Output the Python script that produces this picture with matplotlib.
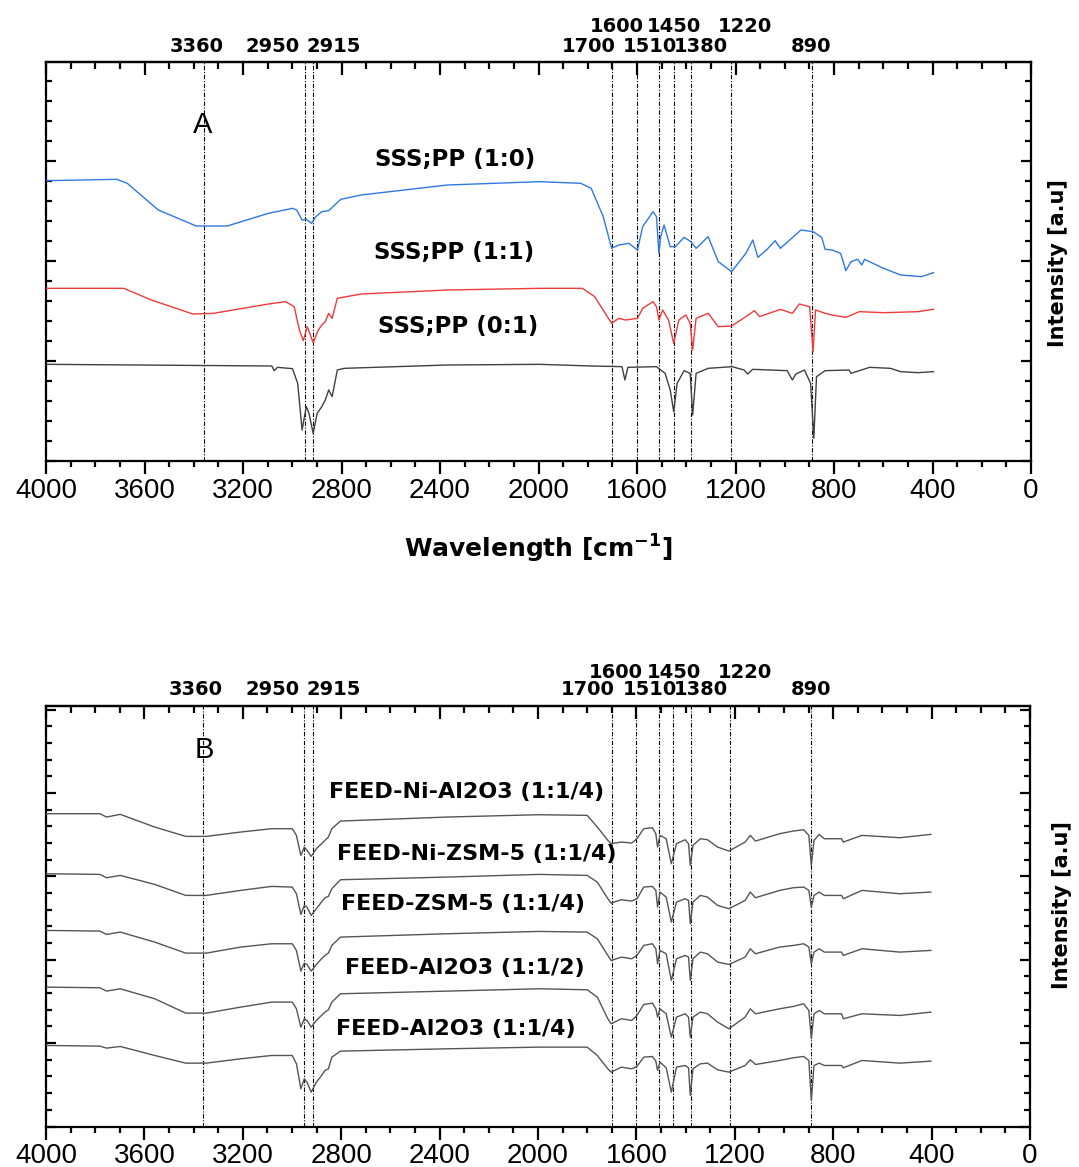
import matplotlib
matplotlib.use('Agg')
import matplotlib.pyplot as plt
from matplotlib.ticker import MultipleLocator, NullFormatter
from matplotlib.transforms import blended_transform_factory

# ---- panel A: SSS;PP blends (wavenumber in cm-1, intensity in a.u.) ----
wn_a_10 = [3998, 3712, 3670, 3544, 3390, 3264, 3097, 2999, 2982, 2960, 2943, 2922, 2904, 2880, 2852,
           2803, 2720, 2370, 1996, 1828, 1786, 1737, 1703, 1674, 1633, 1598, 1577, 1535, 1521, 1511,
           1504, 1490, 1465, 1444, 1409, 1381, 1360, 1311, 1270, 1216, 1158, 1130, 1109, 1074, 1039,
           1018, 934, 885, 850, 836, 808, 773, 752, 731, 704, 687, 676, 599, 529, 445, 396]
int_a_10 = [841, 845, 833, 753, 705, 705, 743, 758, 753, 723, 725, 713, 733, 748, 751,
            785, 798, 828, 838, 833, 818, 733, 638, 648, 653, 633, 703, 748, 733, 623,
            673, 708, 643, 643, 671, 658, 638, 673, 598, 568, 623, 663, 611, 633, 661,
            638, 693, 688, 671, 635, 633, 623, 571, 598, 605, 588, 605, 578, 558, 553, 565]

wn_a_11 = [3998, 3684, 3572, 3404, 3320, 3097, 3027, 2992, 2971, 2955, 2939, 2915, 2894, 2880, 2866,
           2852, 2838, 2817, 2720, 2370, 1996, 1822, 1772, 1703, 1674, 1646, 1598, 1577, 1535, 1521,
           1511, 1496, 1472, 1451, 1430, 1402, 1384, 1374, 1360, 1311, 1270, 1216, 1158, 1123, 1102,
           1018, 969, 941, 899, 885, 875, 836, 808, 752, 697, 599, 459, 396]
int_a_11 = [518, 518, 483, 441, 443, 471, 478, 463, 393, 361, 403, 355, 393, 408, 418,
            443, 428, 488, 501, 513, 518, 518, 493, 413, 428, 423, 428, 458, 478, 463,
            423, 453, 423, 353, 423, 438, 413, 333, 428, 443, 403, 405, 433, 451, 433,
            455, 443, 471, 463, 328, 453, 443, 438, 431, 448, 445, 448, 455]

wn_a_01 = [3998, 3083, 3073, 3060, 2999, 2978, 2960, 2943, 2932, 2915, 2899, 2880, 2866, 2852, 2838,
           2817, 2789, 2370, 1996, 1786, 1661, 1649, 1637, 1521, 1486, 1465, 1451, 1437, 1409, 1384,
           1374, 1360, 1311, 1214, 1165, 1151, 1130, 990, 969, 955, 920, 895, 882, 871, 836,
           739, 731, 655, 571, 529, 459, 396]
int_a_01 = [290, 285, 271, 281, 277, 233, 93, 163, 143, 83, 143, 163, 183, 213, 193,
            273, 278, 288, 290, 285, 283, 243, 281, 283, 263, 213, 148, 233, 271, 263,
            138, 263, 278, 283, 273, 261, 275, 271, 243, 261, 273, 233, 68, 253, 271,
            273, 263, 281, 278, 268, 265, 268]

labels_a = ['SSS;PP (1:0)', 'SSS;PP (1:1)', 'SSS;PP (0:1)']

# ---- panel B: feed + catalysts ----
wn_b = [3998, 3781, 3754, 3698, 3558, 3432, 3348, 3209, 3083, 2999, 2982, 2964, 2950, 2939, 2922,
        2901, 2880, 2866, 2852, 2838, 2803, 2370, 1996, 1800, 1759, 1716, 1703, 1661, 1619, 1598,
        1570, 1535, 1521, 1514, 1504, 1479, 1458, 1437, 1402, 1388, 1381, 1370, 1340, 1311, 1270,
        1224, 1158, 1137, 1116, 1018, 962, 920, 899, 889, 878, 857, 836, 766, 759, 683, 529, 403]
int_b_ni_al2o3 = [938, 938, 928, 936, 898, 870, 870, 883, 893, 893, 873, 813, 838, 828, 810,
                  833, 848, 858, 868, 893, 916, 928, 935, 933, 898, 858, 848, 853, 850, 863,
                  893, 896, 878, 838, 873, 863, 788, 848, 860, 848, 783, 843, 863, 860, 838,
                  826, 853, 873, 856, 878, 886, 890, 873, 783, 858, 876, 863, 863, 853, 873, 866, 876]
int_b_ni_zsm5 = [758, 756, 746, 753, 726, 693, 693, 708, 720, 718, 698, 636, 663, 658, 633,
                 653, 673, 686, 690, 713, 740, 748, 756, 753, 733, 683, 670, 680, 676, 683,
                 718, 720, 708, 658, 703, 688, 613, 673, 683, 678, 608, 673, 693, 688, 663,
                 653, 678, 703, 686, 708, 716, 718, 708, 658, 693, 703, 693, 693, 683, 708, 698, 703]
int_b_zsm5 = [588, 586, 576, 583, 553, 520, 520, 538, 548, 548, 528, 466, 490, 486, 466,
              486, 503, 513, 520, 543, 568, 578, 585, 583, 563, 513, 498, 508, 503, 513,
              543, 548, 533, 488, 528, 518, 438, 503, 513, 508, 438, 503, 523, 518, 493,
              486, 508, 533, 518, 538, 543, 548, 538, 488, 523, 533, 523, 523, 513, 533, 523, 528]
int_b_al2o3_12 = [418, 416, 406, 413, 383, 340, 340, 358, 373, 373, 353, 298, 323, 318, 298,
                  318, 333, 343, 350, 373, 398, 406, 413, 410, 388, 323, 308, 323, 318, 333,
                  366, 370, 353, 328, 353, 338, 268, 328, 338, 328, 268, 328, 343, 338, 313,
                  293, 328, 353, 338, 353, 360, 368, 348, 263, 338, 348, 338, 338, 323, 338, 333, 343]
int_b_al2o3_14 = [243, 241, 235, 240, 213, 190, 190, 203, 213, 213, 188, 113, 143, 133, 103,
                  133, 153, 168, 173, 208, 226, 233, 238, 238, 213, 173, 163, 178, 173, 180,
                  208, 210, 196, 168, 193, 176, 103, 178, 183, 176, 93, 173, 188, 190, 170,
                  163, 183, 200, 186, 198, 206, 210, 198, 78, 183, 190, 183, 183, 176, 198, 190, 196]

labels_b = ['FEED-Ni-Al2O3 (1:1/4)', 'FEED-Ni-ZSM-5 (1:1/4)', 'FEED-ZSM-5 (1:1/4)',
            'FEED-Al2O3 (1:1/2)', 'FEED-Al2O3 (1:1/4)']

# marked bands: position of dash-dot line, label text x, label row (0 lower, 1 upper)
peak_lines = [3360, 2950, 2915, 1700, 1600, 1510, 1450, 1380, 1220, 890]
peak_text_x = [3390, 3079, 2832, 1797, 1683, 1546, 1448, 1339, 1160, 892]
peak_rows = [0, 0, 0, 0, 1, 0, 1, 0, 1, 0]

W, H = 1079, 1167
fig = plt.figure(figsize=(W / 100, H / 100), dpi=100)

tick_font = {'family': 'Liberation Sans', 'size': 20}
bold = {'family': 'DejaVu Sans', 'weight': 'bold'}


def setup_axes(ax, ymax, ymajor, yminor, row_off):
    ax.set_xlim(4000, 0)
    ax.set_ylim(0, ymax)
    for s in ax.spines.values():
        s.set_linewidth(1.6)
    ax.xaxis.set_major_locator(MultipleLocator(400))
    ax.xaxis.set_minor_locator(MultipleLocator(100))
    ax.yaxis.set_major_locator(MultipleLocator(ymajor))
    ax.yaxis.set_minor_locator(MultipleLocator(yminor))
    ax.tick_params(axis='x', which='both', direction='out', top=False, width=1.6)
    ax.tick_params(axis='x', which='major', length=9, pad=3)
    ax.tick_params(axis='x', which='minor', length=4)
    ax.tick_params(axis='y', which='both', direction='in', left=True, right=True,
                   labelleft=False, width=1.6)
    ax.tick_params(axis='y', which='major', length=7)
    ax.tick_params(axis='y', which='minor', length=4)
    for lab in ax.get_xticklabels():
        lab.set_fontproperties(tick_font)
        lab.set_fontsize(tick_font['size'])

    top = ax.secondary_xaxis('top')
    top.xaxis.set_major_locator(MultipleLocator(400))
    top.xaxis.set_minor_locator(MultipleLocator(100))
    top.xaxis.set_major_formatter(NullFormatter())
    top.tick_params(which='both', direction='in', width=1.6)
    top.tick_params(which='major', length=9)
    top.tick_params(which='minor', length=5)
    top.spines['top'].set_linewidth(1.6)

    for p in peak_lines:
        ax.axvline(p, color='black', lw=0.8, linestyle=(0, (4, 1.5, 1, 1.5)), zorder=1)

    trans = blended_transform_factory(ax.transData, ax.transAxes)
    for txt_x, p, row in zip(peak_text_x, peak_lines, peak_rows):
        ax.text(txt_x, 1 + row_off[row], str(p), transform=trans, ha='center', va='baseline',
                fontsize=14, clip_on=False, **bold)


# panel A
axA = fig.add_axes([46 / W, 1 - 461 / H, 985 / W, 399 / H])
setup_axes(axA, 1197, 300, 60, [0.025, 0.075])
axA.plot(wn_a_10, int_a_10, color='#2f78e4', lw=1.0, zorder=3)
axA.plot(wn_a_11, int_a_11, color='#f03a3a', lw=1.0, zorder=3)
axA.plot(wn_a_01, int_a_01, color='#404040', lw=1.0, zorder=3)
for lab, (x, y) in zip(labels_a, [(455, 166), (454, 259), (458, 333)]):
    fig.text(x / W, 1 - y / H, lab, ha='center', va='baseline', fontsize=16.5, **bold)
fig.text(203 / W, 1 - 125 / H, 'A', ha='center', va='center', family='Liberation Sans', fontsize=21)
fig.text(538 / W, 1 - 549 / H, r'Wavelength [cm$^{\mathbf{-1}}$]', ha='center', va='center',
         fontsize=18, **bold)
fig.text(1058 / W, 1 - 263 / H, 'Intensity [a.u]', rotation=90, ha='center', va='center',
         fontsize=15, **bold)

# panel B
axB = fig.add_axes([46 / W, 1 - 1126.5 / H, 984 / W, 420.5 / H])
setup_axes(axB, 1261, 250, 50, [0.026, 0.066])
for vals in [int_b_ni_al2o3, int_b_ni_zsm5, int_b_zsm5, int_b_al2o3_12, int_b_al2o3_14]:
    axB.plot(wn_b, vals, color='#555555', lw=1.0, zorder=3)
for lab, (x, y) in zip(labels_b, [(467, 798), (477, 860), (463, 910), (465, 974), (456, 1035)]):
    fig.text(x / W, 1 - y / H, lab, ha='center', va='baseline', fontsize=16, **bold)
fig.text(204 / W, 1 - 750 / H, 'B', ha='center', va='center', family='Liberation Sans', fontsize=21)
fig.text(1062 / W, 1 - 905 / H, 'Intensity [a.u]', rotation=90, ha='center', va='center',
         fontsize=15, **bold)

fig.savefig('out.png', dpi=100)
